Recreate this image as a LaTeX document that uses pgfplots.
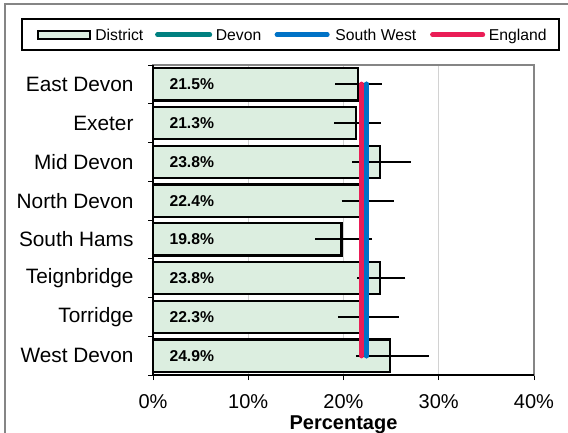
\documentclass[border=0pt]{standalone}
\usepackage{pgfplots}
\pgfplotsset{compat=1.18}
\usepackage{pgfplotstable}
\usepackage{fontspec}
\setmainfont{Liberation Sans}

\definecolor{distfill}{HTML}{DCEEE0}
\definecolor{devonc}{HTML}{008080}
\definecolor{swc}{HTML}{0072C6}
\definecolor{engc}{HTML}{EA1D56}
\definecolor{framec}{HTML}{858585}

% idx value lower upper (confidence interval)
\pgfplotstableread{
idx value lo hi
0 21.5 19.1 24.0
1 21.3 19.0 23.9
2 23.8 20.9 27.1
3 22.4 19.8 25.3
4 19.8 17.0 23.0
5 23.8 21.4 26.5
6 22.3 19.4 25.8
7 24.9 21.3 29.0
}\districts

\begin{document}
\begin{tikzpicture}
\useasboundingbox (0bp,0bp) rectangle (568bp,433bp);
% outer chart frame (cut at right and bottom)
\draw[framec, line width=1.5bp] (5bp,0bp) -- (5bp,429bp) -- (568bp,429bp);
\begin{axis}[
    name=ax,
    at={(153bp,58bp)}, anchor=south west,
    width=381bp, height=310bp, scale only axis,
    xmin=0, xmax=40,
    ymin=-0.5, ymax=7.5, y dir=reverse,
    axis line style={framec, line width=2bp},
    xtick={0,10,20,30,40},
    xticklabel={\pgfmathprintnumber{\tick}\%},
    xtick pos=bottom, ytick pos=left,
    tick align=outside,
    major tick length=5bp,
    tick style={black, line width=1bp},
    xmajorgrids, major grid style={gray!35, line width=0.8bp},
    ytick={-0.5,0.5,...,7.5}, yticklabels={},
    extra y ticks={0,1,2,3,4,5,6,7},
    extra y tick labels={East Devon,Exeter,Mid Devon,North Devon,South Hams,Teignbridge,Torridge,West Devon},
    extra y tick style={major tick length=0pt, yticklabel style={font=\fontsize{20.8bp}{24bp}\selectfont, xshift=-16bp}},
    xticklabel style={font=\fontsize{20bp}{24bp}\selectfont, yshift=-11bp},
    /pgf/number format/assume math mode=true,
    xlabel={Percentage},
    xlabel style={font=\fontsize{20bp}{24bp}\selectfont\bfseries,
        at={(axis description cs:0.5,0)}, anchor=center, yshift=-50bp},
    legend columns=4,
    legend style={at={(axis description cs:0,1)}, anchor=west, xshift=-117bp, yshift=34.3bp,
        draw=none, fill=none, inner sep=0pt, column sep=0pt, row sep=0pt,
        nodes={inner sep=0pt, text height=13bp, text depth=2bp},
        font=\fontsize{15.7bp}{18bp}\selectfont},
]
\addplot[xbar, bar width=0.83, fill=distfill, draw=black, line width=2.2bp,
    legend image code/.code={\draw[fill=distfill, draw=black, line width=2.2bp] (1bp,-4bp) rectangle (53bp,4bp); \path (0bp,-5bp) (57bp,13bp);},
    error bars/.cd, x dir=both, x explicit, error mark=none,
    error bar style={black, line width=2bp}]
    table[x=value, y=idx,
          x error plus expr=\thisrow{hi}-\thisrow{value},
          x error minus expr=\thisrow{value}-\thisrow{lo}] {\districts};
\addlegendentry{\makebox[57bp][l]{District}}
\addplot[draw=none, mark=none, forget plot, point meta=explicit,
    nodes near coords={\pgfmathprintnumber[fixed, precision=1, fixed zerofill]{\pgfplotspointmeta}\%},
    nodes near coords align={anchor=west},
    every node near coord/.style={anchor=west, xshift=13bp, black, font=\fontsize{15.7bp}{18bp}\selectfont\bfseries}]
    table[x expr=0, y=idx, meta=value] {\districts};
\addplot[devonc, line width=5.5bp, line cap=round,
    legend image code/.code={\draw[devonc, line width=4.5bp, line cap=round] (2.25bp,0bp) -- (54.75bp,0bp); \path (0bp,-5bp) (58bp,13bp);}]
    coordinates {(22.4,0) (22.4,7)};
\addlegendentry{\makebox[56bp][l]{Devon}}
\addplot[swc, line width=5.5bp, line cap=round,
    legend image code/.code={\draw[swc, line width=4.5bp, line cap=round] (2.25bp,0bp) -- (52.75bp,0bp); \path (0bp,-5bp) (58bp,13bp);}]
    coordinates {(22.4,0) (22.4,7)};
\addlegendentry{\makebox[92bp][l]{South West}}
\addplot[engc, line width=5.5bp, line cap=round,
    legend image code/.code={\draw[engc, line width=4.5bp, line cap=round] (2.25bp,0bp) -- (52.75bp,0bp); \path (0bp,-5bp) (56bp,13bp);}]
    coordinates {(21.9,0) (21.9,7)};
\addlegendentry{England}
\end{axis}
% black axis lines over the grey plot-area border
\draw[black, line width=1.5bp] (ax.north west) -- (ax.south west) -- (ax.south east);
% legend frame
\draw[black, line width=1.2bp] (22bp,383bp) rectangle (559bp,414bp);
\end{tikzpicture}
\end{document}
